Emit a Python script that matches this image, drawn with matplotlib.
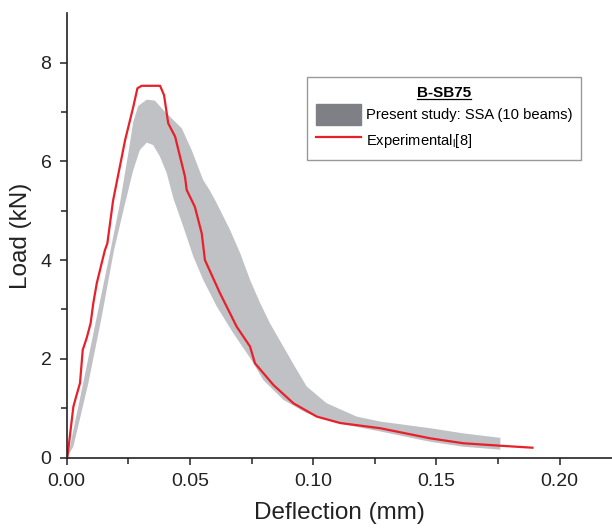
import numpy as np
import matplotlib
matplotlib.use("Agg")
import matplotlib.pyplot as plt
from matplotlib.patches import Patch
from matplotlib.lines import Line2D

plt.rcParams["font.family"] = ["Liberation Sans", "DejaVu Sans"]

# SSA band, upper boundary
band_upper_x = [0, 0.0013, 0.0067, 0.0122, 0.0178, 0.0216, 0.025, 0.027, 0.029, 0.0325,
                0.0358, 0.0392, 0.0426, 0.0467, 0.0507, 0.0554, 0.0582, 0.0609, 0.0663,
                0.0704, 0.0744, 0.0785, 0.0825, 0.0879, 0.0925, 0.0974, 0.1055, 0.1177,
                0.1272, 0.1475, 0.161, 0.176]
band_upper_y = [0, 0.22, 1.51, 2.85, 4.20, 5.15, 6.16, 6.80, 7.12, 7.25,
                7.23, 7.04, 6.87, 6.67, 6.23, 5.62, 5.40, 5.15, 4.61,
                4.14, 3.60, 3.13, 2.72, 2.25, 1.85, 1.44, 1.10, 0.83,
                0.73, 0.595, 0.49, 0.40]

# SSA band, lower boundary
band_lower_x = [0, 0.0027, 0.0088, 0.0142, 0.0192, 0.0237, 0.027, 0.0297, 0.0325, 0.0351,
                0.0379, 0.0406, 0.0433, 0.0473, 0.0514, 0.0554, 0.0609, 0.0676, 0.0744,
                0.0798, 0.0879, 0.0974, 0.1096, 0.1272, 0.1475, 0.161, 0.176]
band_lower_y = [0, 0.22, 1.51, 2.85, 4.20, 5.15, 5.82, 6.23, 6.38, 6.33,
                6.09, 5.76, 5.25, 4.68, 4.07, 3.60, 3.06, 2.52, 2.02,
                1.57, 1.17, 0.90, 0.70, 0.53, 0.32, 0.22, 0.16]

# Experimental curve
exp_x = [0, 0.0003, 0.0027, 0.0038, 0.0054, 0.0065, 0.0081, 0.0097, 0.0108, 0.0122,
         0.0142, 0.0155, 0.0165, 0.0188, 0.0237, 0.027, 0.0287, 0.0304, 0.0379, 0.0395,
         0.0412, 0.044, 0.048, 0.0487, 0.052, 0.0548, 0.0561, 0.0622, 0.069, 0.0744,
         0.0764, 0.0839, 0.092, 0.1015, 0.111, 0.1272, 0.1475, 0.161, 0.176, 0.189]
exp_y = [0, 0.02, 1.03, 1.23, 1.51, 2.18, 2.42, 2.72, 3.13, 3.53,
         3.94, 4.20, 4.34, 5.20, 6.43, 7.10, 7.48, 7.53, 7.53, 7.34,
         6.77, 6.50, 5.69, 5.42, 5.08, 4.54, 4.00, 3.33, 2.65, 2.25,
         1.91, 1.47, 1.10, 0.83, 0.70, 0.595, 0.39, 0.29, 0.24, 0.20]

fig = plt.figure(figsize=(6.12, 5.29), dpi=100)
ax = fig.add_axes([0.109, 0.135, 0.891, 0.84])

band_x = np.concatenate([band_upper_x, band_lower_x[::-1]])
band_y = np.concatenate([band_upper_y, band_lower_y[::-1]])
ax.fill(band_x, band_y, color="#c0c1c5", lw=0)
ax.plot(exp_x, exp_y, color="#e8202a", lw=1.6, solid_joinstyle="round")

ax.set_xlim(0, 0.2213)
ax.set_ylim(0, 9)
ax.set_xticks([0, 0.05, 0.10, 0.15, 0.20])
ax.set_xticks([0.025, 0.075, 0.125, 0.175], minor=True)
ax.set_yticks([0, 2, 4, 6, 8])
ax.set_yticks([1, 3, 5, 7], minor=True)
ax.xaxis.set_major_formatter(plt.FormatStrFormatter("%.2f"))
ax.spines["top"].set_visible(False)
ax.spines["right"].set_visible(False)
for s in ("left", "bottom"):
    ax.spines[s].set_linewidth(1.2)
    ax.spines[s].set_color("#222222")
ax.tick_params(which="major", direction="out", length=5, width=1.1, labelsize=14,
               colors="#222222", pad=6)
ax.tick_params(which="minor", direction="out", length=4, width=1.1, colors="#222222")
ax.set_xlabel("Deflection (mm)", fontsize=17.5, color="#222222", labelpad=9)
ax.set_ylabel("Load (kN)", fontsize=17.5, color="#222222", labelpad=6)

handles = [Patch(facecolor="#7f8085", edgecolor="#7f8085"),
           Line2D([], [], color="#e8202a", lw=1.6)]
labels = ["Present study: SSA (10 beams)", r"Experimental$_\mathregular{l}$[8]"]
leg = fig.legend(handles, labels, loc="upper left",
                 bbox_to_anchor=(307 / 612, 1 - 77 / 529),
                 title="B-SB75", fontsize=10.6, frameon=True, fancybox=False,
                 handlelength=3.1, handleheight=1.9, handletextpad=0.3,
                 borderpad=0.6, labelspacing=0.25, borderaxespad=0)
leg.get_title().set_fontweight("bold")
leg.get_title().set_fontsize(11)
leg.get_frame().set_edgecolor("#808080")
leg.get_frame().set_linewidth(1.0)

# underline the legend title
fig.canvas.draw()
bb = leg.get_title().get_window_extent().transformed(fig.transFigure.inverted())
fig.add_artist(Line2D([bb.x0, bb.x1], [bb.y0 + 0.001, bb.y0 + 0.001],
                      transform=fig.transFigure, color="black", lw=0.9, zorder=10))

fig.savefig("out.png", dpi=100)
